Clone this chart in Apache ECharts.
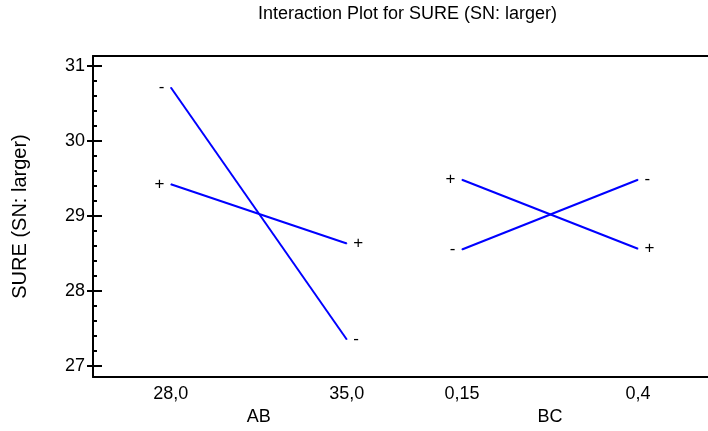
<!DOCTYPE html>
<html>
<head>
<meta charset="utf-8">
<script src="https://cdn.jsdelivr.net/npm/echarts@6/dist/echarts.min.js"></script>
<style>
  html, body { margin: 0; padding: 0; background: #fff; }
  #chart { width: 708px; height: 431px; }
</style>
</head>
<body>
<div id="chart"></div>
<script>
// factors and their levels along the shared x axis
const factors = ['AB', 'BC'];
const levelLabels = ['28,0', '35,0', '0,15', '0,4'];
const levelPos = [1, 3.26, 4.74, 7];
// means per level of the second factor ('-' and '+')
const abMinus = [30.71, 27.35];
const abPlus = [29.42, 28.63];
const bcMinus = [28.55, 29.48];
const bcPlus = [29.48, 28.56];
const yMajor = [27, 28, 29, 30, 31];

const yMinor = [];
for (let v = 26.8; v <= 31.1; v += 0.2) yMinor.push(Math.round(v * 10) / 10);
const factorMid = [(levelPos[0] + levelPos[1]) / 2, (levelPos[2] + levelPos[3]) / 2];

const font = 'Liberation Sans';
const yMin = 26.85, yMax = 31.13;
const xMax = 7.9; // frame runs past the right edge of the picture

function findIdx(arr, v) {
  for (let i = 0; i < arr.length; i++) if (Math.abs(arr[i] - v) < 1e-6) return i;
  return -1;
}

function makeSeries(vals, xs, sign) {
  return {
    type: 'line',
    xAxisIndex: 0,
    yAxisIndex: 0,
    showSymbol: true,
    symbol: 'circle',
    symbolSize: 1,
    itemStyle: { color: '#0000ff' },
    lineStyle: { color: '#0000ff', width: 2 },
    data: vals.map((v, i) => ({
      value: [xs[i], v],
      label: {
        show: true,
        position: i === 0 ? 'left' : 'right',
        distance: 6,
        formatter: sign,
        color: '#000',
        fontSize: 17,
        fontFamily: font
      }
    }))
  };
}

function yAx(pos, values, len, withLabel) {
  return {
    type: 'value',
    position: pos,
    min: yMin,
    max: yMax,
    axisLine: { show: withLabel && pos === 'left', lineStyle: { color: '#000', width: 2 } },
    splitLine: { show: false },
    axisTick: {
      show: true, inside: true, length: len, customValues: values,
      lineStyle: { color: '#000', width: 2 }
    },
    axisLabel: withLabel && pos === 'left' ? {
      show: true, customValues: values, color: '#000', fontSize: 18,
      fontFamily: font, margin: 8
    } : { show: false },
    name: withLabel && pos === 'left' ? 'SURE (SN: larger)' : '',
    nameLocation: 'middle',
    nameGap: 63,
    nameTextStyle: { color: '#000', fontSize: 20, fontFamily: font }
  };
}

const chart = echarts.init(document.getElementById('chart'));
chart.setOption({
  animation: false,
  title: {
    text: 'Interaction Plot for SURE (SN: larger)',
    left: 258,
    top: 5,
    padding: 0,
    textStyle: { color: '#000', fontSize: 18, fontWeight: 'normal', fontFamily: font }
  },
  grid: { left: 93, top: 56, right: 0, bottom: 54 },
  xAxis: [
    {
      type: 'value', min: 0, max: xMax, position: 'bottom',
      axisLine: { show: true, onZero: false, lineStyle: { color: '#000', width: 2 } },
      axisTick: { show: false }, splitLine: { show: false },
      axisLabel: {
        customValues: levelPos, color: '#000', fontSize: 18, fontFamily: font, margin: 8,
        formatter: v => levelLabels[findIdx(levelPos, v)] || ''
      }
    },
    {
      type: 'value', min: 0, max: xMax, position: 'bottom', offset: 23,
      axisLine: { show: false }, axisTick: { show: false }, splitLine: { show: false },
      axisLabel: {
        customValues: factorMid, color: '#000', fontSize: 18, fontFamily: font, margin: 8,
        formatter: v => factors[findIdx(factorMid, v)] || ''
      }
    },
    {
      type: 'value', min: 0, max: xMax, position: 'top',
      axisLine: { show: true, onZero: false, lineStyle: { color: '#000', width: 2 } },
      axisTick: { show: false }, splitLine: { show: false }, axisLabel: { show: false }
    }
  ],
  yAxis: [
    yAx('left', yMajor, 9, true),
    yAx('left', yMinor, 4, false),
    yAx('right', yMajor, 6, true)
  ],
  series: [
    makeSeries(abMinus, levelPos.slice(0, 2), '-'),
    makeSeries(abPlus, levelPos.slice(0, 2), '+'),
    makeSeries(bcMinus, levelPos.slice(2, 4), '-'),
    makeSeries(bcPlus, levelPos.slice(2, 4), '+')
  ]
});
</script>
</body>
</html>
